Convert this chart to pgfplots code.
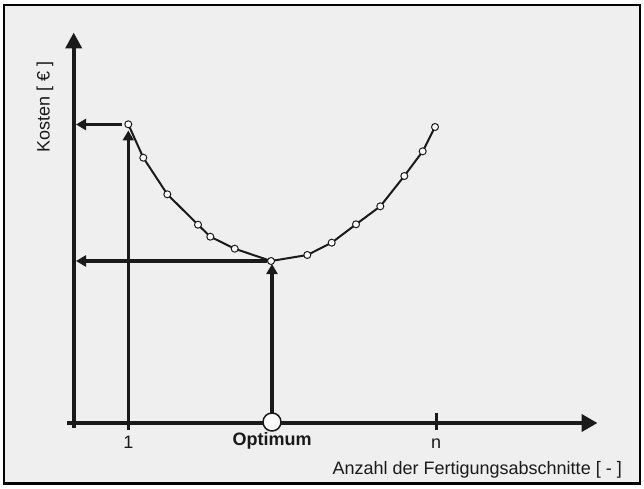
\documentclass[border=0pt]{standalone}
\usepackage{fontspec}
\setmainfont{Liberation Sans}
\usepackage{pgfplots}
\pgfplotsset{compat=1.18}
\usetikzlibrary{arrows.meta}
\definecolor{bgc}{HTML}{EFEFEF}
\definecolor{ink}{HTML}{1A1A1A}
\begin{document}
\begin{tikzpicture}
\begin{axis}[
  width=644pt, height=488pt, scale only axis,
  xmin=0, xmax=644, ymin=0, ymax=488,
  hide axis, clip=false,
]
% background and frame
\fill[white] (axis cs:0,0) rectangle (axis cs:644,488);
\filldraw[fill=bgc, draw=black, line width=2.2pt] (axis cs:3.7,4.5) rectangle (axis cs:640.3,483);
% axes
\addplot[ink, line width=4pt, -{Triangle[length=16pt,width=17pt]}] coordinates {(67,65) (597.5,65)};
\addplot[ink, line width=4pt, -{Triangle[length=16pt,width=16pt]}] coordinates {(73.7,60) (73.7,455.5)};
% ticks
\addplot[ink, line width=3pt] coordinates {(436,58) (436,75)};
\addplot[ink, line width=3pt] coordinates {(128.3,58.5) (128.3,66)};
% guide arrows
\addplot[ink, line width=3.6pt, -{Triangle[length=10pt,width=11pt]}] coordinates {(128.3,59) (128.3,357.5)};
\addplot[ink, line width=3.6pt, -{Triangle[length=10pt,width=11pt]}] coordinates {(122,363.5) (76,363.5)};
\addplot[ink, line width=3.6pt, -{Triangle[length=10pt,width=11pt]}] coordinates {(267,227) (76,227)};
\addplot[ink, line width=3.6pt, -{Triangle[length=10pt,width=11pt]}] coordinates {(272,75) (272,224)};
% optimum marker on x axis
\addplot[only marks, mark=*, mark size=9pt, mark options={fill=white, draw=ink, line width=1.5pt}] coordinates {(272,66)};
% cost curve
\addplot[ink, line width=2pt, line join=round, mark=*, mark size=3.5pt,
  mark options={fill=white, draw=ink, line width=1pt}] coordinates {
  (128.3,363.7) (143.3,330.3) (167.3,293.7) (198,263.3) (210.3,251.3)
  (234.7,239.3) (271,227) (307.3,233) (331.7,245.3) (356,263.7)
  (380.3,281.7) (404.3,312) (422.7,336.7) (435,361)
};
% labels
\node[rotate=90, font=\fontsize{18}{21}\selectfont, text=ink] at (axis cs:45,381) {Kosten [ € ]};
\node[anchor=base, font=\fontsize{18}{21}\selectfont, text=ink] at (axis cs:128.3,39.5) {1};
\node[anchor=base, font=\fontsize{18}{21}\selectfont\bfseries, text=ink] at (axis cs:272,43) {Optimum};
\node[anchor=base, font=\fontsize{18}{21}\selectfont, text=ink] at (axis cs:436,40) {n};
\node[anchor=base east, inner sep=0pt, font=\fontsize{18}{21}\selectfont, text=ink] at (axis cs:622,14) {Anzahl der Fertigungsabschnitte [ - ]};
\end{axis}
\end{tikzpicture}
\end{document}
